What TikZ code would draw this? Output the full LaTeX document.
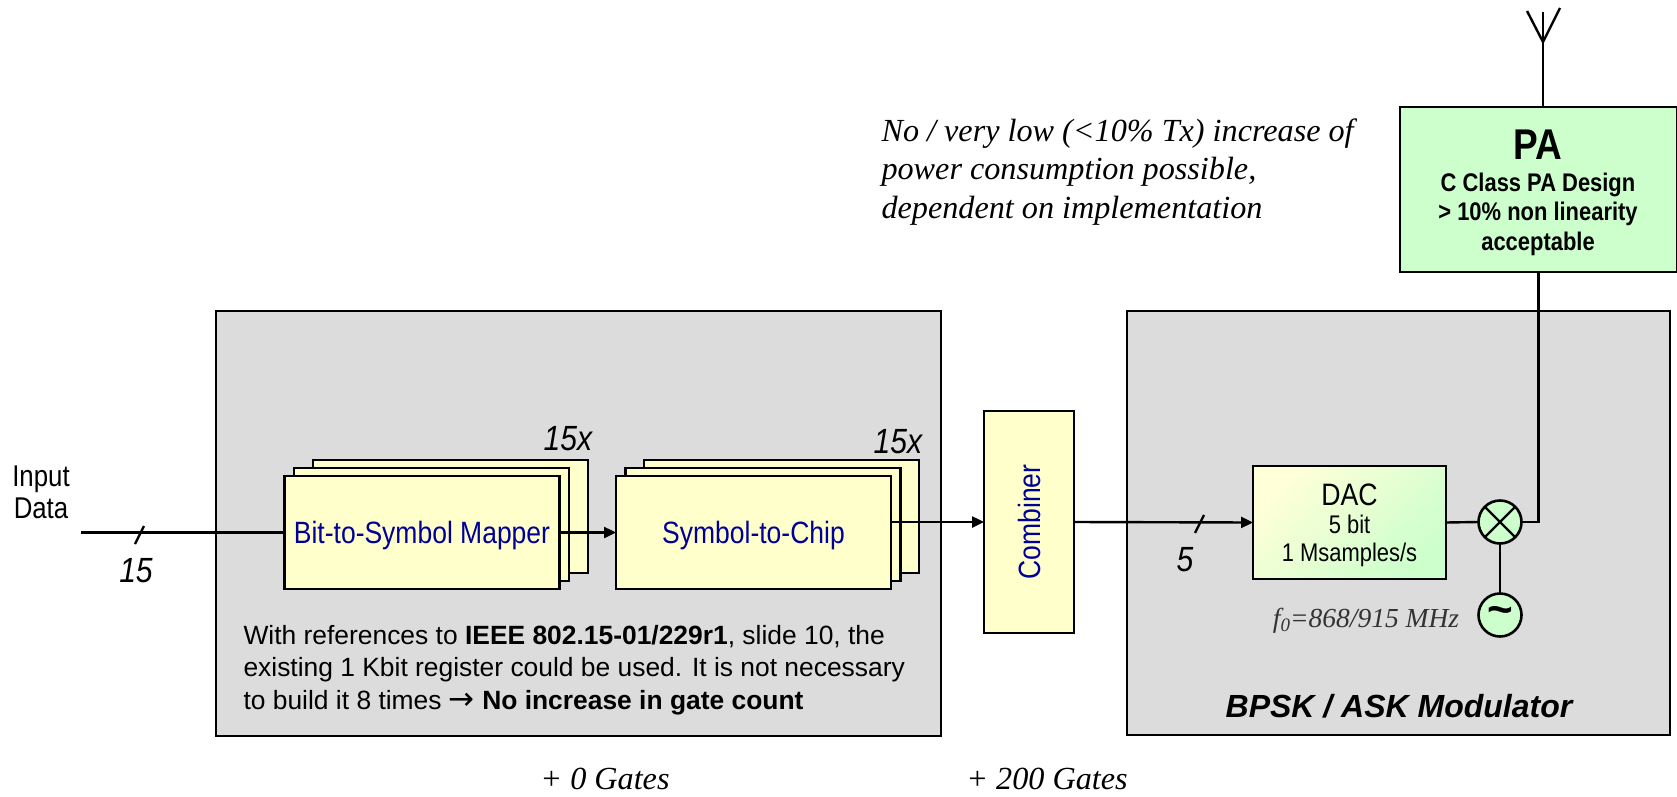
\documentclass[tikz,border=0pt]{standalone}
\usepackage{fontspec}
\usepackage{tikz}
\usepackage{xcolor}
\usetikzlibrary{shapes.geometric, arrows.meta}
\setmainfont{Liberation Sans}
\newfontfamily\narrowfont[FakeStretch=0.86]{Liberation Sans}
\newfontfamily\seriffont{Liberation Serif}
\newfontfamily\arrowfont{DejaVu Sans}
\definecolor{boxgray}{HTML}{DCDCDC}
\definecolor{boxyellow}{HTML}{FFFFCC}
\definecolor{boxgreen}{HTML}{CCFFCC}
\definecolor{dacyellow}{HTML}{FFFFD8}
\definecolor{dacmiddle}{HTML}{F2FFD8}
\definecolor{textblue}{HTML}{000099}
\tikzstyle{panel} = [rectangle, draw=black, fill=boxgray, line width=2.4pt, outer sep=0pt, inner sep=0pt]
\tikzstyle{block} = [rectangle, minimum width=275pt, minimum height=113pt, draw=black, fill=boxyellow, line width=2.6pt, outer sep=0pt, inner sep=0pt]
\tikzstyle{label} = [font=\narrowfont\fontsize{30.8}{36}\selectfont, text=textblue]
\tikzstyle{note} = [font=\seriffont\itshape\fontsize{32.2}{38.5}\selectfont, align=left]
\tikzstyle{gates} = [font=\seriffont\itshape\fontsize{32.2}{36}\selectfont, inner sep=0pt]
\tikzstyle{count} = [font=\narrowfont\itshape\fontsize{35}{40}\selectfont]
\tikzstyle{roundel} = [circle, minimum size=43pt, draw=black, fill=boxgreen, line width=2.6pt, outer sep=0pt, inner sep=0pt]
\tikzstyle{wire} = [line width=2.4pt]
\tikzstyle{arrow} = [line width=2.4pt,-{Stealth[length=12pt,width=11pt,inset=0pt]}]
\begin{document}
\begin{tikzpicture}[x=1pt,y=-1pt]
\useasboundingbox (0,0) rectangle (1677,797);
\node (mapperpanel) [panel, minimum width=725pt, minimum height=425pt] at (578.5,523.5) {};
\node (modpanel) [panel, minimum width=543pt, minimum height=424pt] at (1398.5,523) {};
% stacked boxes
\node (mapperc) [block] at (450.5,516.5) {};
\node (mapperb) [block] at (431.5,524.5) {};
\node (mapper) [block] at (422,532.5) {};
\node (symbolc) [block] at (781.5,516.5) {};
\node (symbolb) [block] at (763,524.5) {};
\node (symbol) [block] at (753.5,532.5) {};
\node [label] at (422,536) {Bit-to-Symbol Mapper};
\node [label] at (753.5,536) {Symbol-to-Chip};
\node (combiner) [block, minimum width=90pt, minimum height=222pt] at (1029,522) {};
\node [label, rotate=90] at (combiner) {Combiner};
\node (dac) [block, minimum width=193pt, minimum height=113pt, left color=dacyellow, middle color=dacmiddle, right color=boxgreen, shading angle=45, align=center, font=\narrowfont] at (1349.5,522.5) {};
\node (dactext) [align=center, font=\narrowfont\fontsize{25.5}{28}\selectfont] at (1349.5,525) {{\fontsize{31}{36}\selectfont DAC}\\5 bit\\1 Msamples/s};
\node (pa) [block, minimum width=277pt, minimum height=165pt, fill=boxgreen] at (1538.5,189.5) {};
\node (patext) [align=center, font=\narrowfont\bfseries\fontsize{25.5}{29.5}\selectfont] at (1538,193) {{\fontsize{43}{47}\selectfont PA}\\[2pt]C Class PA Design\\> 10\% non linearity\\acceptable};
\node (mixer) [roundel] at (1500,522) {};
\node (osc) [roundel, font=\bfseries\fontsize{44}{44}\selectfont] at (1500,615) {\raisebox{-7pt}{\char`\~}};
% free ends
\coordinate (input) at (81,532.5);
\coordinate (antenna) at (1543,42);
\coordinate (armleft) at (1527,11);
\coordinate (armmid) at (1543,12);
\coordinate (armright) at (1560,8);
\coordinate (inputslasha) at (135,544);
\coordinate (inputslashb) at (144,526);
\coordinate (dacslasha) at (1195,533);
\coordinate (dacslashb) at (1204,515);
% connectors
\draw [wire] (input) -- (mapper.west);
\draw [arrow] (mapper.east) -- (symbol.west);
\draw [arrow] (combiner.west -| symbol.east) -- (combiner.west);
\draw [arrow] (combiner.east) -- (dac.west);
\draw [wire] (dac.east) -- (mixer.west);
\draw [wire] (mixer.east) -| (pa.south);
\draw [wire] (mixer.south) -- (osc.north);
\draw [wire] (mixer.45) -- (mixer.225);
\draw [wire] (mixer.135) -- (mixer.315);
\draw [wire] (pa.north -| antenna) -- (armmid);
\draw [wire] (armleft) -- (antenna) -- (armright);
\draw [wire] (inputslasha) -- (inputslashb);
\draw [wire] (dacslasha) -- (dacslashb);
% text
\node (inputlabel) [align=center, font=\narrowfont\fontsize{30}{32}\selectfont] at (41,492) {Input\\Data};
\node (inputcount) [count] at (136,571) {15};
\node (dackount) [count] at (1185,560) {5};
\node (mappercount) [count] at (568,439) {15x};
\node (symbolcount) [count] at (898,442) {15x};
\node (mappernote) [align=left, anchor=west, font=\fontsize{26.4}{32.5}\selectfont] at (240,670) {With references to \textbf{IEEE 802.15-01/229r1}, slide 10, the\\existing 1 Kbit register could be used. It is not necessary\\to build it 8 times {\arrowfont\fontsize{31}{32.5}\selectfont →} \textbf{No increase in gate count}};
\node (modlabel) [font=\bfseries\itshape\fontsize{32}{36}\selectfont] at (1399,706) {BPSK / ASK Modulator};
\node (freq) [font=\seriffont\itshape\fontsize{27.5}{30}\selectfont, text=black!80] at (1366,621) {f\raisebox{-4pt}{\fontsize{19}{20}\selectfont 0}=868/915 MHz};
\node (powernote) [note, anchor=west] at (878,172) {No / very low (<10\% Tx) increase of\\power consumption possible,\\dependent on implementation};
\node (gatesa) [gates] at (605,779) {+ 0 Gates};
\node (gatesb) [gates] at (1047,779) {+ 200 Gates};
\end{tikzpicture}
\end{document}
